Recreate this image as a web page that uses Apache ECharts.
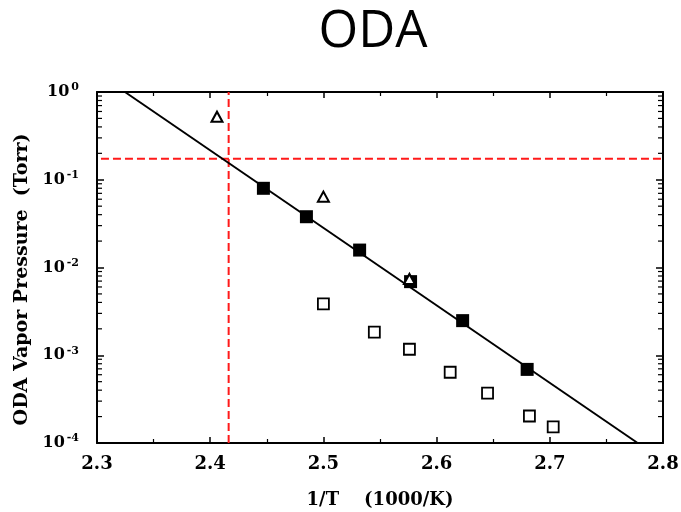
<!DOCTYPE html>
<html>
<head>
<meta charset="utf-8">
<script src="https://cdn.jsdelivr.net/npm/echarts@6/dist/echarts.min.js"></script>
<style>
    html, body { margin: 0; padding: 0; background: #fff; }
    #chart { width: 681px; height: 512px; }
</style>
</head>
<body>
<div id="chart"></div>
<script>
// measured points, 1/T (1000/K) vs vapor pressure (Torr)
const filled_x = [2.447, 2.485, 2.532, 2.577, 2.623, 2.680];
const filled_y = [0.0799, 0.0379, 0.0158, 0.0069, 0.00248, 0.00069];
const open_x = [2.500, 2.545, 2.576, 2.612, 2.645, 2.682, 2.703];
const open_y = [0.00384, 0.00183, 0.00117, 0.00064, 0.00037, 0.000203, 0.000153];
const tri_x = [2.406, 2.500, 2.576];
const tri_y = [0.523, 0.0641, 0.0074];
const fit_x = [2.3247, 2.7776];
const fit_y = [1, 0.0001];
const cross_x = 2.4163;
const cross_y = 0.174;
const x_ticks = [2.3, 2.4, 2.5, 2.6, 2.7, 2.8];
const y_decades = [0.0001, 0.001, 0.01, 0.1];
const y_minor_mult = [2, 3, 4, 5, 6, 7, 8, 9];

const SERIF = "'DejaVu Serif', 'Liberation Serif', serif";
const zip = (xs, ys) => xs.map((x, i) => [x, ys[i]]);
const minor_vals = y_decades.flatMap((d) => y_minor_mult.map((m) => m * d));

const chart = echarts.init(document.getElementById("chart"), null, { renderer: "canvas" });

const axis_line = { show: true, lineStyle: { color: "#000", width: 2 } };
const tick = { inside: true, length: 6, lineStyle: { color: "#000", width: 1.5 } };
const minor = { show: true, splitNumber: 2, length: 4, lineStyle: { color: "#000", width: 1.2 } };
const sup_label = {
    fontFamily: SERIF,
    fontWeight: "bold",
    color: "#000",
    formatter: (v) => "{b|10}{s|" + Math.round(Math.log10(v)) + "}",
    rich: {
        b: { fontFamily: SERIF, fontWeight: "bold", fontSize: 16, color: "#000" },
        s: { fontFamily: SERIF, fontWeight: "bold", fontSize: 11, color: "#000", padding: [0, 0, 9, 2] },
    },
};

chart.setOption({
    animation: false,
    title: {
        text: "ODA",
        left: 368,
        top: 2,
        textAlign: "center",
        textStyle: { fontFamily: "'Open Sans', sans-serif", fontWeight: "normal", fontSize: 51, color: "#000" },
    },
    grid: { left: 97, right: 18, top: 92, bottom: 69, outerBoundsMode: "none", containLabel: false },
    xAxis: [
        {
            type: "value",
            min: 2.3,
            max: 2.8,
            interval: 0.1,
            name: "1/T    (1000/K)",
            nameLocation: "middle",
            nameGap: 48,
            nameTextStyle: { fontFamily: SERIF, fontWeight: "bold", fontSize: 18, color: "#000" },
            axisLine: axis_line,
            axisTick: tick,
            minorTick: minor,
            axisLabel: {
                margin: 12,
                fontFamily: SERIF,
                fontWeight: "bold",
                fontSize: 18,
                color: "#000",
                customValues: x_ticks,
                formatter: (v) => v.toFixed(1),
            },
            splitLine: { show: false },
        },
        {
            type: "value",
            position: "top",
            min: 2.3,
            max: 2.8,
            interval: 0.1,
            axisLine: axis_line,
            axisTick: tick,
            minorTick: minor,
            axisLabel: { show: false },
            splitLine: { show: false },
        },
    ],
    yAxis: [
        {
            type: "log",
            logBase: 10,
            min: 0.0001,
            max: 1,
            name: "ODA Vapor Pressure  (Torr)",
            nameLocation: "middle",
            nameGap: 65,
            nameTextStyle: { fontFamily: SERIF, fontWeight: "bold", fontSize: 19, color: "#000", padding: [0, 24, 0, 0] },
            axisLine: axis_line,
            axisTick: { inside: true, length: 7, lineStyle: { color: "#000", width: 1.5 } },
            axisLabel: { margin: 18, ...sup_label },
            splitLine: { show: false },
        },
        {
            type: "log",
            logBase: 10,
            min: 0.0001,
            max: 1,
            position: "right",
            axisLine: axis_line,
            axisTick: { inside: true, length: 7, lineStyle: { color: "#000", width: 1.5 } },
            axisLabel: { show: false },
            splitLine: { show: false },
        },
    ],
    series: [
        {
            // log minor ticks on left and right edges
            type: "custom",
            silent: true,
            clip: false,
            data: minor_vals.map((v) => [2.3, v]),
            renderItem: (params, api) => {
                const l = api.coord([2.3, api.value(1)]);
                const r = api.coord([2.8, api.value(1)]);
                const style = { stroke: "#000", lineWidth: 1.2 };
                return {
                    type: "group",
                    children: [
                        { type: "line", shape: { x1: l[0], y1: l[1], x2: l[0] + 5, y2: l[1] }, style },
                        { type: "line", shape: { x1: r[0], y1: r[1], x2: r[0] - 5, y2: r[1] }, style },
                    ],
                };
            },
        },
        {
            type: "line",
            data: [[cross_x, 0.0001], [cross_x, 1]],
            symbol: "none",
            lineStyle: { color: "#ff1a1a", width: 2, type: [8, 4] },
            z: 1,
        },
        {
            type: "line",
            data: [[2.3035, cross_y], [2.8, cross_y]],
            symbol: "none",
            lineStyle: { color: "#ff1a1a", width: 2, type: [8, 4] },
            z: 1,
        },
        {
            type: "line",
            data: zip(fit_x, fit_y),
            symbol: "none",
            lineStyle: { color: "#000", width: 2 },
            z: 2,
        },
        {
            type: "scatter",
            data: zip(filled_x, filled_y),
            symbol: "rect",
            symbolSize: 13,
            itemStyle: { color: "#000", opacity: 1 },
            z: 3,
        },
        {
            type: "scatter",
            data: zip(open_x, open_y),
            symbol: "rect",
            symbolSize: 11,
            itemStyle: { color: "#fff", borderColor: "#000", borderWidth: 1.8, opacity: 1 },
            z: 3,
        },
        {
            type: "scatter",
            data: zip(tri_x, tri_y),
            symbol: "triangle",
            symbolSize: [11, 10],
            itemStyle: { color: "#fff", borderColor: "#000", borderWidth: 2, opacity: 1 },
            z: 4,
        },
    ],
});
</script>
</body>
</html>
